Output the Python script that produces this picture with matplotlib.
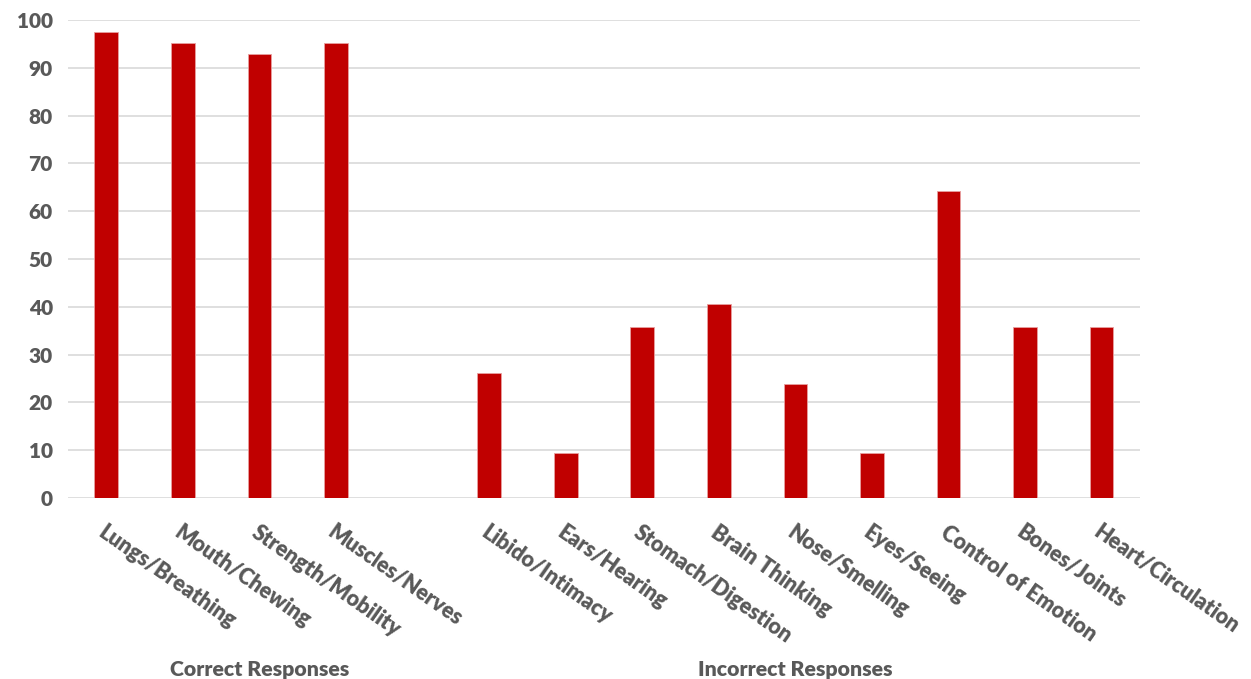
import matplotlib
matplotlib.use("Agg")
import matplotlib.pyplot as plt
import numpy as np

plt.rcParams['font.family'] = ['Lato', 'DejaVu Sans']

# data
correct_labels = ['Lungs/Breathing', 'Mouth/Chewing', 'Strength/Mobility', 'Muscles/Nerves']
correct_values = [97.6, 95.2, 92.9, 95.2]
incorrect_labels = ['Libido/Intimacy', 'Ears/Hearing', 'Stomach/Digestion', 'Brain Thinking',
                    'Nose/Smelling', 'Eyes/Seeing', 'Control of Emotion', 'Bones/Joints',
                    'Heart/Circulation']
incorrect_values = [26.2, 9.5, 35.7, 40.5, 23.8, 9.5, 64.3, 35.7, 35.7]
group_names = ['Correct Responses', 'Incorrect Responses']

# one empty slot after the correct group (as in the Excel layout)
x_correct = np.arange(len(correct_labels))
x_incorrect = np.arange(len(incorrect_labels)) + len(correct_labels) + 1
n_slots = len(correct_labels) + 1 + len(incorrect_labels)

gray = '#595959'
red = '#C00000'

fig = plt.figure(figsize=(12.51, 6.79), dpi=100)
ax = fig.add_axes([0.0544, 0.2666, 0.8568, 0.7039])

xs = np.concatenate([x_correct, x_incorrect])
vals = correct_values + incorrect_values
labels = correct_labels + incorrect_labels
ax.bar(xs, vals, width=0.31, color=red, edgecolor='#E8A0A0', linewidth=0.6, zorder=3)

ax.set_xlim(-0.5, n_slots - 0.5)
ax.set_ylim(0, 100)
ax.set_yticks(range(0, 101, 10))
ax.yaxis.grid(True, color='#D9D9D9', linewidth=1.2, zorder=0)
for s in ax.spines.values():
    s.set_visible(False)
ax.tick_params(axis='y', length=0, pad=11, labelsize=15, labelcolor=gray)
for t in ax.get_yticklabels():
    t.set_fontweight('heavy')

ax.set_xticks(xs)
ax.set_xticklabels(labels, rotation=-35, ha='left', va='top', rotation_mode='anchor',
                   fontsize=15.5, fontweight='heavy', color=gray)
ax.tick_params(axis='x', length=0, pad=17)

# group labels under the categories
g1 = (x_correct[0] + x_correct[-1] + 1) / 2
g2 = (x_incorrect[0] + x_incorrect[-1]) / 2
for gx, name in zip([g1, g2], group_names):
    ax.text(gx, -0.358, name, transform=ax.get_xaxis_transform(), ha='center', va='center',
            fontsize=15.3, fontweight='heavy', color=gray)

fig.savefig('out.png', dpi=100)
